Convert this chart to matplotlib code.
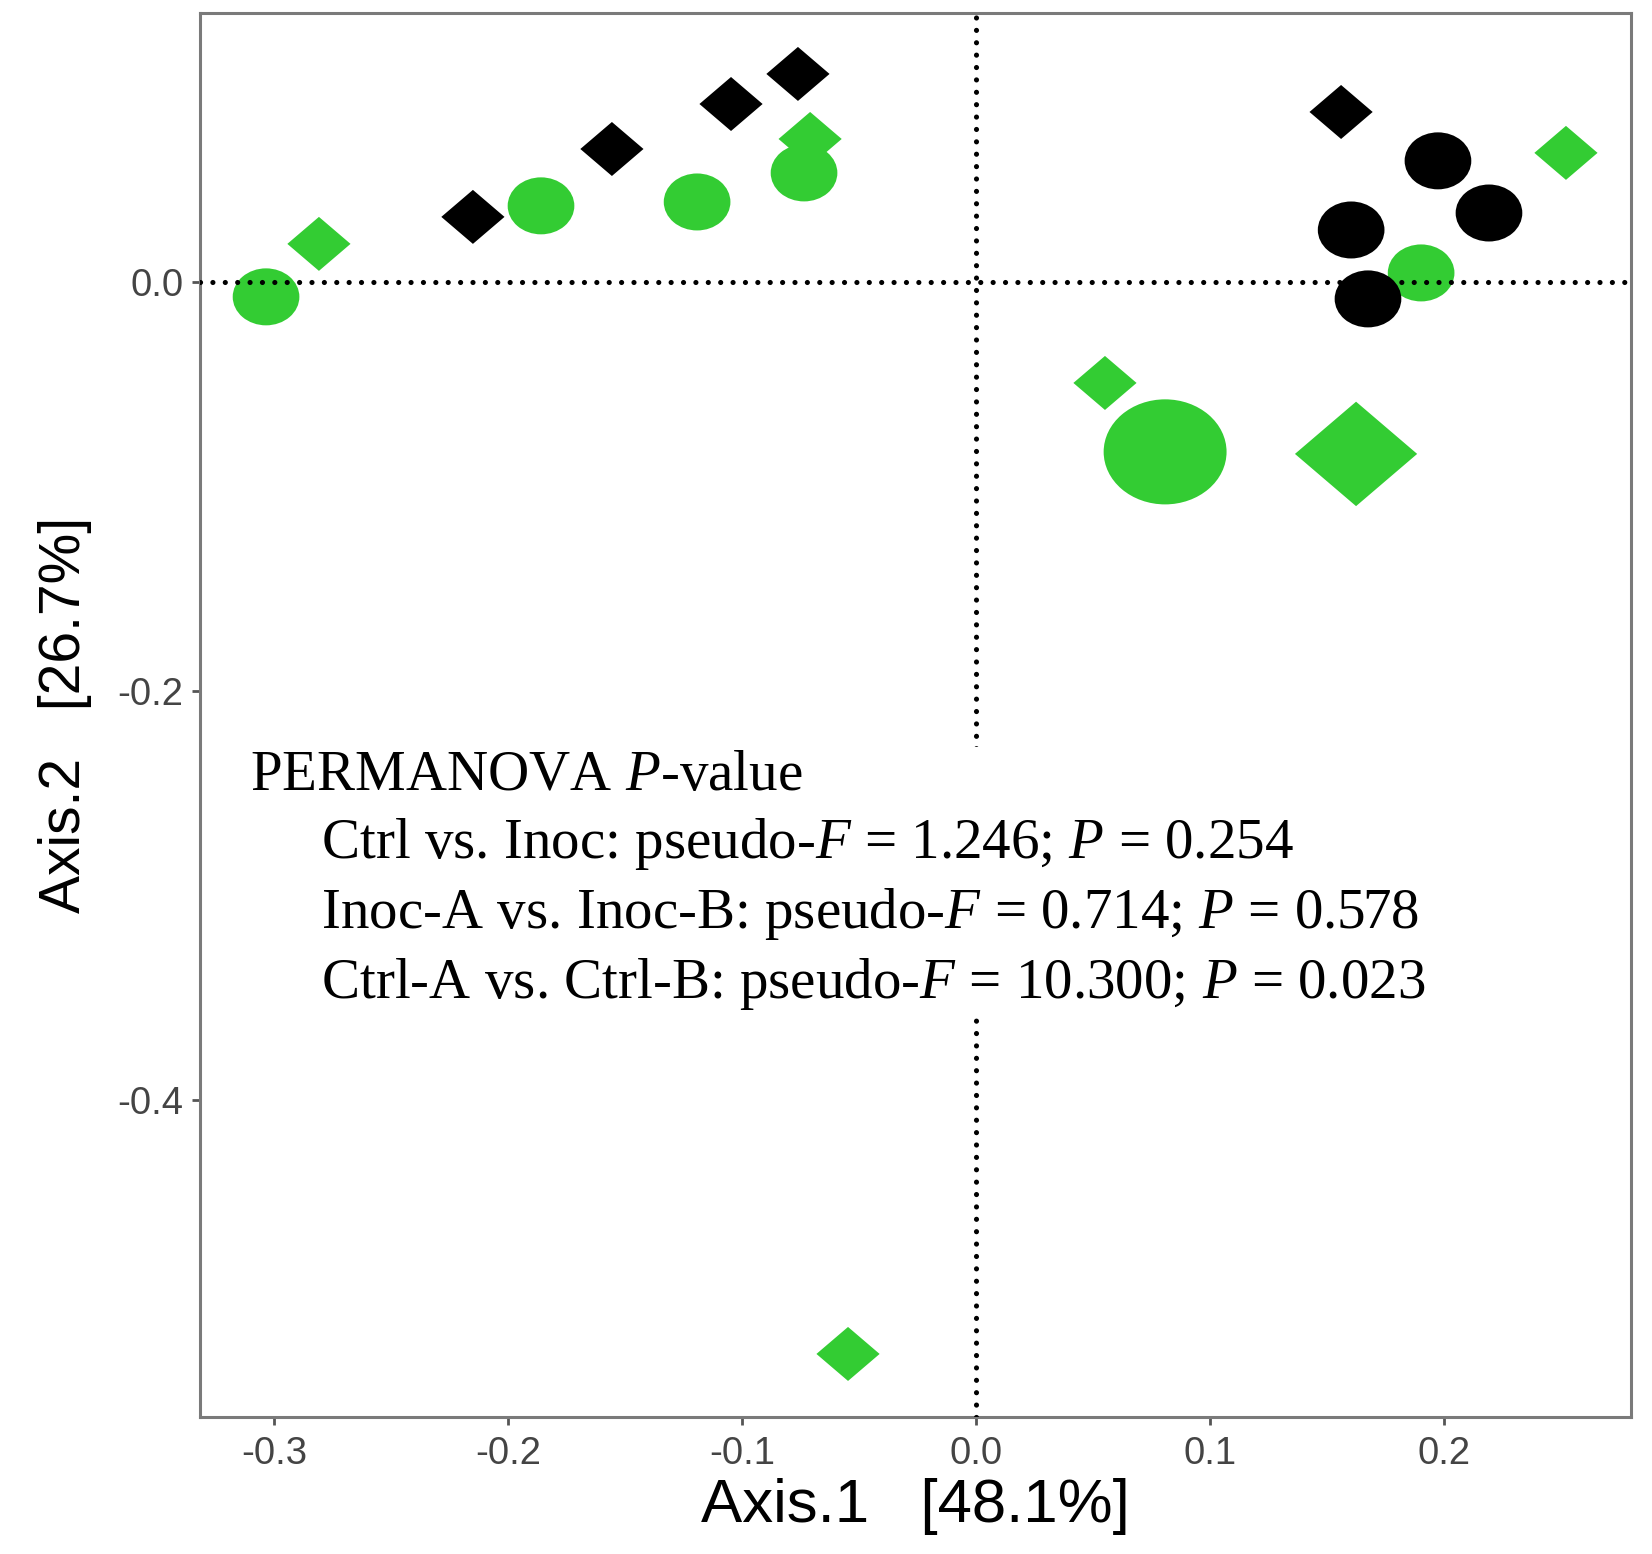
import numpy as np
import matplotlib
matplotlib.use("Agg")
import matplotlib.pyplot as plt
from matplotlib.path import Path
from matplotlib.markers import MarkerStyle

# ---------------- data ----------------
# Ctrl (black) / Inoc (green); A = circle, B = diamond
ctrl_a_x = [0.1974, 0.2192, 0.1603, 0.1675]
ctrl_a_y = [0.0592, 0.0337, 0.0254, -0.0083]
ctrl_a_w = [1, 1, 1, 1]

ctrl_b_x = [-0.2150, -0.1556, -0.1047, -0.0761, 0.1560]
ctrl_b_y = [0.0318, 0.0650, 0.0870, 0.1017, 0.0831]
ctrl_b_w = [1, 1, 1, 1, 1]

inoc_a_x = [-0.3034, -0.1859, -0.1192, -0.0735, 0.1902, 0.0808]
inoc_a_y = [-0.0073, 0.0372, 0.0391, 0.0533, 0.0044, -0.0831]
inoc_a_w = [1, 1, 1, 1, 1, 2]

inoc_b_x = [-0.2808, -0.0709, 0.2521, 0.0551, 0.1624, -0.0547]
inoc_b_y = [0.0186, 0.0699, 0.0631, -0.0494, -0.0841, -0.5242]
inoc_b_w = [1, 1, 1, 1, 2, 1]

x_ticks = [-0.3, -0.2, -0.1, 0.0, 0.1, 0.2]
y_ticks = [-0.4, -0.2, 0.0]
x_label = "Axis.1   [48.1%]"
y_label = "Axis.2   [26.7%]"
stats_lines = [
    "PERMANOVA $\\mathit{P}$-value",
    "     Ctrl vs. Inoc: pseudo-$\\mathit{F}$ = 1.246; $\\mathit{P}$ = 0.254",
    "     Inoc-A vs. Inoc-B: pseudo-$\\mathit{F}$ = 0.714; $\\mathit{P}$ = 0.578",
    "     Ctrl-A vs. Ctrl-B: pseudo-$\\mathit{F}$ = 10.300; $\\mathit{P}$ = 0.023",
]

# ---------------- style ----------------
plt.rcParams['font.family'] = ['Liberation Sans', 'DejaVu Sans']
plt.rcParams['axes.unicode_minus'] = False
plt.rcParams['mathtext.fontset'] = 'custom'
plt.rcParams['mathtext.rm'] = 'Liberation Serif'
plt.rcParams['mathtext.it'] = 'Liberation Serif:italic'
plt.rcParams['mathtext.bf'] = 'Liberation Serif:bold'

GREEN = '#33CC33'
BLACK = '#000000'
ASPECT = 1.17  # markers are wider than tall in the reference

circ = Path.unit_circle()
ell_verts = circ.vertices.copy()
ell_verts[:, 1] /= ASPECT
ellipse_marker = MarkerStyle(Path(ell_verts, circ.codes))
h = 1.0 / ASPECT
diamond_marker = MarkerStyle(Path([(1, 0), (0, h), (-1, 0), (0, -h), (1, 0)],
                                  [Path.MOVETO, Path.LINETO, Path.LINETO, Path.LINETO, Path.CLOSEPOLY]))

def sizes(w, base_circle=True):
    w = np.asarray(w, dtype=float)
    if base_circle:
        pts = np.where(w > 1, 88.5, 48.0)
    else:
        pts = np.where(w > 1, 88.0, 45.5)
    return pts ** 2

fig = plt.figure(figsize=(16.52, 15.54), dpi=100)
ax = fig.add_axes([0.1211, 0.0882, 0.8662, 0.9037])

ax.scatter(inoc_b_x, inoc_b_y, s=sizes(inoc_b_w, False), marker=diamond_marker,
           color=GREEN, linewidths=0, zorder=2)
ax.scatter(inoc_a_x, inoc_a_y, s=sizes(inoc_a_w, True), marker=ellipse_marker,
           color=GREEN, linewidths=0, zorder=2)
ax.scatter(ctrl_b_x, ctrl_b_y, s=sizes(ctrl_b_w, False), marker=diamond_marker,
           color=BLACK, linewidths=0, zorder=3)
ax.scatter(ctrl_a_x, ctrl_a_y, s=sizes(ctrl_a_w, True), marker=ellipse_marker,
           color=BLACK, linewidths=0, zorder=3)

dot = (0, (0.01, 2.4))
ax.axhline(0, color='black', lw=3.7, linestyle=dot, dash_capstyle='round', zorder=4)
ax.axvline(0, color='black', lw=3.7, linestyle=dot, dash_capstyle='round', zorder=4)

ax.set_xlim(-0.3316, 0.2799)
ax.set_ylim(-0.5550, 0.1317)
ax.set_xticks(x_ticks)
ax.set_xticklabels([f"{v:.1f}" for v in x_ticks])
ax.set_yticks(y_ticks)
ax.set_yticklabels([f"{v:.1f}" for v in y_ticks])

for sp in ax.spines.values():
    sp.set_color('#7a7a7a')
    sp.set_linewidth(2.2)
ax.tick_params(axis='both', length=6, width=2.0, color='#555555',
               labelsize=27.5, labelcolor='#444444')
ax.tick_params(axis='x', pad=8)
ax.tick_params(axis='y', pad=6)

ax.set_xlabel(x_label, fontsize=44.5, labelpad=4, color='black')
ax.set_ylabel(y_label, fontsize=41, labelpad=18, color='black')

ax.text(-0.3103, -0.2290, "\n".join(stats_lines), family='Liberation Serif',
        fontsize=41, ha='left', va='top', linespacing=1.33, zorder=5,
        bbox=dict(facecolor='white', edgecolor='none', pad=4))

fig.savefig("out.png", dpi=100)
